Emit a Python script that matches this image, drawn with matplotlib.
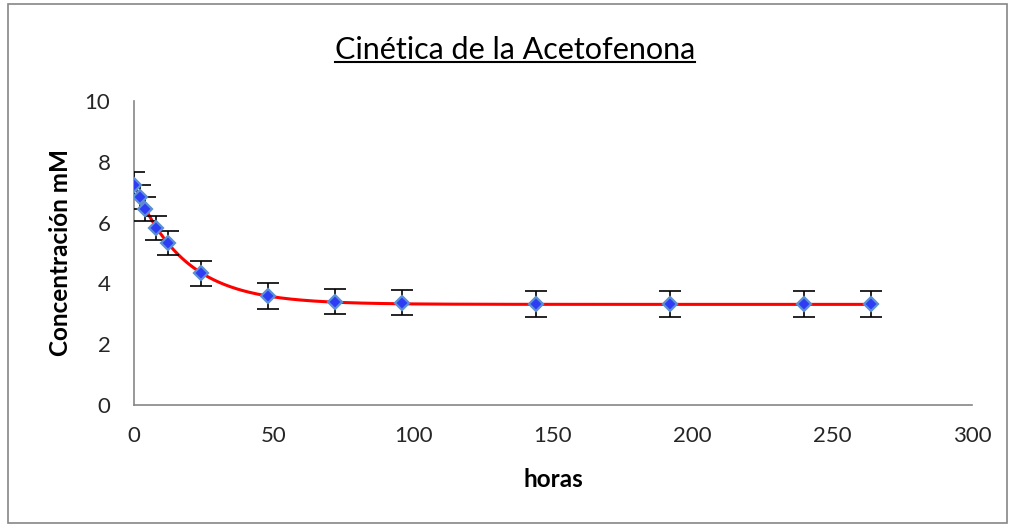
import matplotlib
matplotlib.use("Agg")
import matplotlib.pyplot as plt
from matplotlib.lines import Line2D
import numpy as np

# measured points (hours, mM)
horas = [0, 2, 4, 8, 12, 24, 48, 72, 96, 144, 192, 240, 264]
conc = [7.25, 6.85, 6.45, 5.82, 5.33, 4.33, 3.58, 3.40, 3.37, 3.33, 3.32, 3.32, 3.32]
err = [0.4, 0.4, 0.4, 0.4, 0.4, 0.4, 0.42, 0.42, 0.42, 0.42, 0.42, 0.42, 0.42]

# trendline parameters: c + a * exp(-k t)
fit_c = 3.31
fit_a = 3.95
fit_k = 0.0556

plt.rcParams["font.family"] = ["Lato", "DejaVu Sans"]

fig = plt.figure(figsize=(10.13, 5.27), dpi=100)
ax = fig.add_axes([134 / 1013, 1 - 405 / 527, (972 - 134) / 1013, (405 - 101) / 527])

t = np.linspace(0, max(horas), 600)
ax.plot(t, fit_c + fit_a * np.exp(-fit_k * t), color="#ff0000", lw=2.2, zorder=2)

ax.errorbar(horas, conc, yerr=err, fmt="none", ecolor="black", elinewidth=1.2,
            capsize=8, capthick=1.2, zorder=3)
ax.plot(horas, conc, linestyle="none", marker="D", markersize=7,
        markerfacecolor="#2f3cf5", markeredgecolor="#5b8fd6", markeredgewidth=1.6, zorder=4)

ax.set_xlim(0, 300)
ax.set_ylim(0, 10)
ax.set_xticks(range(0, 301, 50))
ax.set_yticks(range(0, 11, 2))
for s in ("top", "right"):
    ax.spines[s].set_visible(False)
for s in ("left", "bottom"):
    ax.spines[s].set_color("#868686")
    ax.spines[s].set_linewidth(1.2)
ax.tick_params(axis="both", labelsize=16, length=0, labelcolor="#262626")
ax.tick_params(axis="x", pad=15)
ax.tick_params(axis="y", pad=17)

ax.set_xlabel("horas", fontsize=17.5, fontweight="bold", labelpad=16)
ax.set_ylabel("Concentración mM", fontsize=17.5, fontweight="bold", labelpad=9)

title = fig.text(515 / 1013, 1 - 50 / 527, "Cinética de la Acetofenona", ha="center",
                 va="center", fontsize=22)

# underline the title
fig.canvas.draw()
bb = title.get_window_extent().transformed(fig.transFigure.inverted())
fig.add_artist(Line2D([bb.x0, bb.x1], [bb.y0 + 0.004, bb.y0 + 0.004],
                      transform=fig.transFigure, color="black", lw=1.5))

# outer frame
fig.add_artist(plt.Rectangle((8 / 1013, 4 / 527), 1 - 14 / 1013, 1 - 8 / 527,
                             transform=fig.transFigure, fill=False,
                             edgecolor="#868686", lw=1.2))

fig.savefig("out.png", dpi=100)
